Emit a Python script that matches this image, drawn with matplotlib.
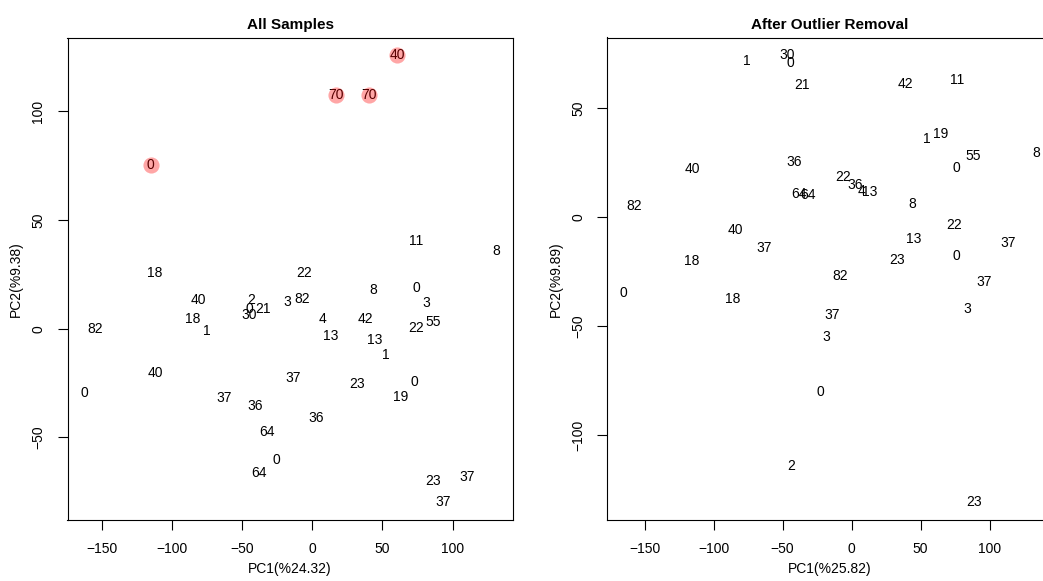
import numpy as np
import matplotlib.pyplot as plt

plt.rcParams['font.family'] = ['Liberation Sans', 'DejaVu Sans']

# PCA scores, all samples (labels are sample ages)
all_lab = ['40', '70', '70', '0', '11', '8', '18', '22', '40', '8', '0', '3', '2', '0',
           '21', '30', '3', '82', '18', '1', '82', '4', '42', '13', '22', '55', '13', '1',
           '40', '0', '37', '23', '0', '19', '37', '36', '36', '64', '0', '64', '23', '37', '37']
all_pc1 = [60.5, 17.3, 40.6, -115.1, 74.0, 131.1, -112.0, -6.0, -80.7, 43.8, 74.0, 81.3, -43.4, -44.4,
           -35.1, -45.1, -17.6, -7.1, -85.0, -74.7, -154.2, 7.1, 37.9, 13.0, 74.2, 86.5, 44.5, 52.2,
           -112.0, -162.5, -13.5, 32.0, 73.0, 63.3, -62.9, -40.3, 2.8, -32.0, -25.4, -38.0, 86.1, 110.7, 93.6]
all_pc2 = [125.8, 107.6, 107.6, 75.2, 40.3, 35.7, 25.5, 25.8, 13.0, 17.8, 18.9, 12.0, 13.0, 8.9,
           9.3, 6.1, 12.4, 13.6, 4.6, -1.1, 0.1, 4.3, 4.3, -3.4, 0.5, 3.2, -5.2, -12.1,
           -20.6, -29.5, -22.9, -25.6, -24.6, -31.5, -32.1, -35.6, -41.3, -47.6, -60.5, -66.6, -70.2, -68.3, -79.8]
outlier_idx = [0, 1, 2, 3]

# PCA scores after the outliers were dropped
clean_lab = ['1', '30', '0', '21', '42', '11', '1', '19', '55', '8', '0', '40', '36', '22',
             '36', '4', '13', '64', '64', '82', '8', '40', '22', '13', '37', '37', '18', '23',
             '0', '82', '37', '0', '18', '37', '3', '3', '0', '2', '23']
clean_pc1 = [-76.2, -46.4, -44.3, -35.8, 38.7, 76.2, 54.4, 64.8, 87.8, 133.7, 76.2, -115.7, -41.9, -6.5,
             2.4, 7.3, 13.3, -38.0, -31.9, -157.8, 44.0, -84.2, 74.2, 45.2, 113.6, -63.6, -115.7, 33.1,
             76.2, -8.5, 96.0, -165.2, -86.4, -13.8, 84.2, -18.1, -23.0, -43.8, 89.0]
clean_pc2 = [71.4, 74.0, 70.7, 60.4, 60.8, 62.6, 35.9, 37.9, 27.9, 29.5, 22.6, 21.8, 25.2, 18.5,
             14.5, 11.9, 11.4, 10.7, 9.9, 5.0, 6.1, -6.0, -3.8, -9.9, -11.7, -14.0, -20.1, -19.7,
             -17.9, -27.0, -29.6, -34.9, -37.7, -44.9, -41.9, -54.9, -79.9, -114.0, -130.5]

fig = plt.figure(figsize=(10.43, 5.81), dpi=100)
W, H = 1043, 581
ax1 = fig.add_axes([67.5 / W, 61 / H, 445.2 / W, 482.5 / H])
ax2 = fig.add_axes([607.3 / W, 61 / H, 445.2 / W, 482.5 / H])


def pca_panel(ax, x, y, lab, title, xlab, ylab, yticks):
    x = np.array(x)
    y = np.array(y)
    for xi, yi, s in zip(x, y, lab):
        ax.text(xi, yi, s, ha='center', va='center', fontsize=10, color='black', zorder=2)
    # R-style 4% padding around the data range
    dx = (x.max() - x.min()) * 0.04
    dy = (y.max() - y.min()) * 0.04
    ax.set_xlim(x.min() - dx, x.max() + dx)
    ax.set_ylim(y.min() - dy, y.max() + dy)
    ax.set_xticks([-150, -100, -50, 0, 50, 100])
    ax.set_yticks(yticks)
    ax.tick_params(direction='out', length=7, width=0.8, labelsize=10, pad=9)
    for lbl in ax.get_yticklabels():
        lbl.set_rotation(90)
        lbl.set_va('center')
    ax.set_title(title, fontsize=11, fontweight='bold', pad=6)
    ax.set_xlabel(xlab, fontsize=10, labelpad=4)
    ax.set_ylabel(ylab, fontsize=10, labelpad=6)
    for sp in ax.spines.values():
        sp.set_linewidth(0.8)


pca_panel(ax1, all_pc1, all_pc2, all_lab, 'All Samples', 'PC1(%24.32)', 'PC2(%9.38)',
          [-50, 0, 50, 100])
out_x = [all_pc1[i] for i in outlier_idx]
out_y = [all_pc2[i] for i in outlier_idx]
ax1.scatter(out_x, out_y, s=135, color='red', alpha=0.35, linewidths=0, zorder=3)

pca_panel(ax2, clean_pc1, clean_pc2, clean_lab, 'After Outlier Removal', 'PC1(%25.82)', 'PC2(%9.89)',
          [-100, -50, 0, 50])

fig.savefig('out.png', dpi=100)
